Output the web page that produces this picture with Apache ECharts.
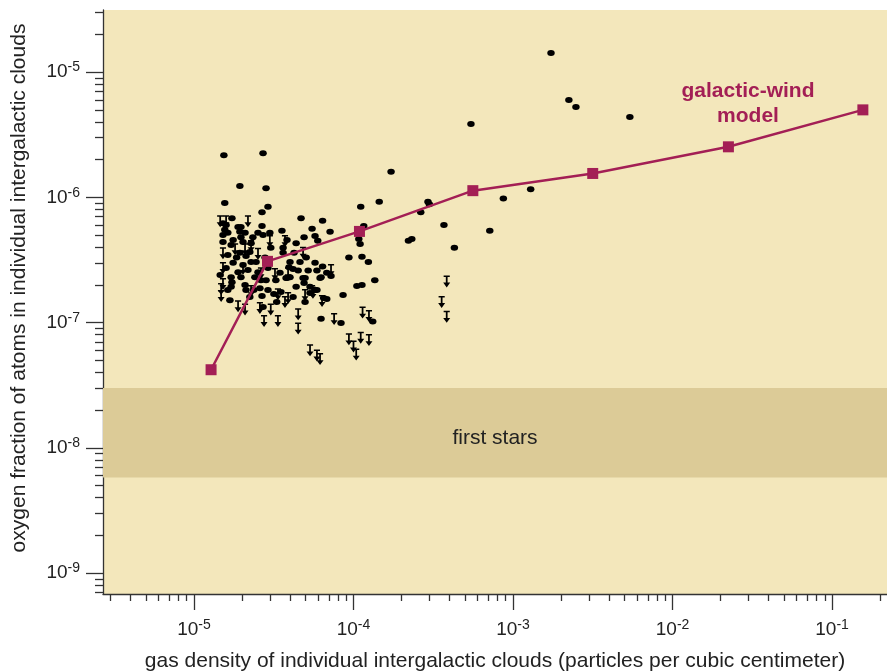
<!DOCTYPE html>
<html>
<head>
<meta charset="utf-8">
<script src="https://cdn.jsdelivr.net/npm/echarts@6/dist/echarts.min.js"></script>
<style>
    html, body { margin: 0; padding: 0; background: #fff; }
    #chart { width: 887px; height: 671px; }
</style>
</head>
<body>
<div id="chart"></div>
<script>
// measured clouds: [density, oxygen fraction]
const detections = [
    [1.54e-5, 2.17e-6], [2.71e-5, 2.25e-6], [1.94e-5, 1.23e-6], [2.83e-5, 1.18e-6], [1.56e-5, 9.0e-7],
    [2.91e-5, 8.4e-7], [2.67e-5, 7.6e-7], [1.73e-5, 6.8e-7], [4.69e-5, 6.8e-7], [2.67e-5, 5.9e-7],
    [3.56e-5, 5.4e-7], [5.5e-5, 5.6e-7], [4.9e-5, 4.8e-7], [6.4e-5, 6.5e-7], [1.11e-4, 8.4e-7],
    [1.45e-4, 9.2e-7], [7.13e-5, 5.3e-7], [5.74e-5, 4.9e-7], [5.97e-5, 4.5e-7], [1.16e-4, 5.9e-7],
    [1.08e-4, 4.65e-7], [1.1e-4, 4.24e-7], [9.36e-5, 3.3e-7], [1.13e-4, 3.35e-7], [1.24e-4, 3.05e-7],
    [4.24e-5, 3.6e-7], [5.74e-5, 3.0e-7], [1.72e-4, 1.6e-6], [5.45e-4, 3.85e-6], [1.73e-3, 1.42e-5],
    [2.24e-3, 5.97e-6], [2.48e-3, 5.26e-6], [5.4e-3, 4.37e-6], [1.29e-3, 1.16e-6], [8.7e-4, 9.8e-7],
    [7.15e-4, 5.4e-7], [2.93e-4, 9.2e-7], [2.99e-4, 8.8e-7], [2.64e-4, 7.6e-7], [3.69e-4, 6.0e-7],
    [2.21e-4, 4.5e-7], [2.32e-4, 4.65e-7], [4.29e-4, 3.95e-7],
    [1.52e-5, 6.2e-7], [1.59e-5, 6.0e-7], [1.56e-5, 5.5e-7], [1.63e-5, 5.2e-7], [1.52e-5, 5.0e-7],
    [1.89e-5, 5.8e-7], [1.97e-5, 5.8e-7], [1.94e-5, 5.3e-7], [2.09e-5, 5.2e-7], [1.97e-5, 4.8e-7],
    [2.34e-5, 4.8e-7], [2.52e-5, 5.2e-7], [2.71e-5, 5.0e-7], [2.99e-5, 5.2e-7], [1.76e-5, 4.56e-7],
    [1.52e-5, 4.4e-7], [1.71e-5, 4.16e-7], [2.03e-5, 4.4e-7], [2.28e-5, 4.3e-7], [3.03e-5, 3.95e-7],
    [4.0e-5, 3.05e-7], [1.76e-5, 3.0e-7], [2.28e-5, 3.05e-7], [3.46e-5, 2.5e-7], [1.63e-5, 3.46e-7],
    [1.94e-5, 3.6e-7], [2.79e-5, 3.3e-7], [2.24e-5, 3.65e-7], [3.62e-5, 3.6e-7], [3.62e-5, 3.95e-7],
    [6.4e-5, 2.8e-7], [5.2e-5, 2.6e-7], [5.9e-5, 2.6e-7], [6.26e-5, 2.3e-7], [6.8e-5, 2.5e-7],
    [3.94e-5, 2.77e-7], [4.18e-5, 2.68e-7], [4.5e-5, 2.6e-7], [3.83e-5, 2.27e-7], [4.83e-5, 2.27e-7],
    [4.9e-5, 2.07e-7], [5.34e-5, 1.93e-7], [5.9e-5, 1.82e-7], [1.36e-4, 2.18e-7], [1.05e-4, 1.96e-7],
    [1.13e-4, 1.99e-7], [8.6e-5, 1.66e-7], [6.8e-5, 1.54e-7], [6.5e-5, 1.57e-7], [4.18e-5, 1.6e-7],
    [3.3e-5, 1.46e-7], [6.26e-5, 1.07e-7], [8.35e-5, 9.9e-8], [1.32e-4, 1.02e-7], [1.71e-5, 1.93e-7],
    [1.63e-5, 1.82e-7], [2.09e-5, 1.99e-7], [2.12e-5, 1.82e-7], [2.59e-5, 1.88e-7], [2.91e-5, 1.82e-7],
    [3.51e-5, 1.75e-7], [2.71e-5, 1.33e-7], [1.71e-5, 2.3e-7], [1.97e-5, 2.3e-7], [2.41e-5, 2.3e-7],
    [2.63e-5, 2.18e-7], [2.83e-5, 2.18e-7], [3.26e-5, 2.18e-7], [3.78e-5, 2.27e-7], [4.0e-5, 2.3e-7],
    [4.97e-5, 2.27e-7], [6.17e-5, 2.27e-7], [7.23e-5, 2.35e-7], [5.74e-5, 1.82e-7], [5.34e-5, 1.72e-7],
    [4.97e-5, 1.46e-7], [1.46e-5, 2.4e-7], [1.73e-5, 2.1e-7], [2.03e-5, 2.88e-7], [1.85e-5, 3.3e-7],
    [2.12e-5, 3.4e-7], [2.45e-5, 3.05e-7], [1.59e-5, 2.72e-7], [1.89e-5, 2.52e-7], [2.18e-5, 2.63e-7],
    [2.52e-5, 2.52e-7], [2.91e-5, 2.72e-7], [2.37e-5, 1.82e-7], [2.67e-5, 1.63e-7], [3.17e-5, 1.69e-7],
    [4.37e-5, 1.93e-7], [4.62e-5, 3.05e-7], [5.05e-5, 3.3e-7], [3.83e-5, 4.56e-7], [4.37e-5, 4.3e-7],
    [1.68e-5, 1.51e-7], [2.24e-5, 1.6e-7]
];

// upper limits (arrows): [density, oxygen fraction]
const upperLimits = [
    [1.46e-5, 7.2e-7], [1.59e-5, 7.2e-7], [2.18e-5, 7.2e-7], [2.99e-5, 5.0e-7], [3.72e-5, 5.0e-7],
    [2.28e-5, 4.56e-7], [1.81e-5, 4.3e-7], [2.09e-5, 4.3e-7], [1.52e-5, 4.0e-7], [2.52e-5, 3.95e-7],
    [1.52e-5, 3.05e-7], [2.03e-5, 3.0e-7], [3.22e-5, 2.72e-7], [3.89e-5, 2.77e-7], [2.63e-5, 2.77e-7],
    [4.83e-5, 4.03e-7], [7.23e-5, 2.93e-7], [5.5e-5, 1.99e-7], [6.35e-5, 1.66e-7], [3.72e-5, 1.63e-7],
    [4.97e-5, 1.85e-7], [3.36e-5, 1.15e-7], [4.5e-5, 1.3e-7], [4.5e-5, 1.0e-7], [7.56e-5, 1.19e-7],
    [1.14e-4, 1.34e-7], [1.25e-4, 1.26e-7], [9.36e-5, 8.2e-8], [1.0e-4, 7.2e-8], [1.04e-4, 6.2e-8],
    [1.11e-4, 8.45e-8], [1.25e-4, 8.1e-8], [5.34e-5, 6.7e-8], [5.9e-5, 6.1e-8], [6.17e-5, 5.7e-8],
    [1.52e-5, 2.27e-7], [1.48e-5, 2.07e-7], [3.36e-5, 1.88e-7], [3.89e-5, 1.75e-7], [1.48e-5, 1.82e-7],
    [1.89e-5, 1.51e-7], [2.09e-5, 1.42e-7], [2.59e-5, 1.46e-7], [3.03e-5, 1.42e-7], [2.75e-5, 1.15e-7],
    [2.28e-5, 1.99e-7], [5.57e-5, 1.93e-7], [3.84e-4, 2.38e-7], [3.57e-4, 1.63e-7], [3.84e-4, 1.24e-7]
];

const modelDensity = [1.28e-5, 2.89e-5, 1.09e-4, 5.6e-4, 3.16e-3, 2.24e-2, 1.56e-1];
const modelOxygen = [4.2e-8, 3.08e-7, 5.34e-7, 1.13e-6, 1.55e-6, 2.53e-6, 4.99e-6];

const firstStars = [5.8e-9, 3.0e-8];
const xRange = [2.69e-6, 0.221];
const yRange = [6.8e-10, 3.13e-5];
const xDecades = [-5, -4, -3, -2, -1];
const yDecades = [-9, -8, -7, -6, -5];

const lg = Math.log10;
const wine = '#A31F55';
const ink = '#222';
const font = '"Liberation Sans", Arial, Helvetica, sans-serif';

function minorTicks(range) {
    const lo = lg(range[0]), hi = lg(range[1]);
    const out = [];
    for (let k = Math.floor(lo); k <= Math.ceil(hi); k++) {
        for (let m = 2; m <= 9; m++) {
            const v = k + lg(m);
            if (v >= lo && v <= hi) out.push(v);
        }
    }
    return out;
}

const powLabel = {
    formatter: v => '{b|10}{s|' + Math.round(v) + '}',
    rich: {
        b: {fontSize: 19, lineHeight: 23, color: ink, fontFamily: font},
        s: {fontSize: 14, lineHeight: 14, verticalAlign: 'top', color: ink, fontFamily: font}
    }
};

const arrowPath = 'path://M1.5 0H8.5V2H6V9.5H9L5 16L1 9.5H4V2H1.5Z';

const chart = echarts.init(document.getElementById('chart'));
const lineStyle = {color: '#333', width: 1.3};

chart.setOption({
    animation: false,
    textStyle: {fontFamily: font},
    grid: {
        left: 103, right: 0, top: 10, bottom: 77,
        show: true, backgroundColor: '#F3E7BB', borderWidth: 0,
        containLabel: false, outerBoundsMode: 'none'
    },
    xAxis: [{
        type: 'value', position: 'bottom',
        min: lg(xRange[0]), max: lg(xRange[1]),
        axisLine: {show: true, lineStyle: lineStyle},
        axisTick: {show: true, length: 16, lineStyle: lineStyle, customValues: xDecades},
        axisLabel: Object.assign({customValues: xDecades, margin: 24}, powLabel),
        splitLine: {show: false},
        name: 'gas density of individual intergalactic clouds (particles per cubic centimeter)',
        nameLocation: 'middle', nameGap: 57,
        nameTextStyle: {fontSize: 21, color: ink}
    }, {
        type: 'value', position: 'bottom', offset: 0,
        min: lg(xRange[0]), max: lg(xRange[1]),
        axisLine: {show: false},
        axisTick: {show: true, length: 7, lineStyle: lineStyle, customValues: minorTicks(xRange)},
        axisLabel: {show: false},
        splitLine: {show: false}
    }],
    yAxis: [{
        type: 'value', position: 'left',
        min: lg(yRange[0]), max: lg(yRange[1]),
        axisLine: {show: true, lineStyle: lineStyle},
        axisTick: {show: true, length: 17, lineStyle: lineStyle, customValues: yDecades},
        axisLabel: Object.assign({customValues: yDecades, margin: 23}, powLabel),
        splitLine: {show: false},
        name: 'oxygen fraction of atoms in individual intergalactic clouds',
        nameLocation: 'middle', nameGap: 73,
        nameTextStyle: {fontSize: 21, color: ink, padding: [0, 0, 0, 28]}
    }, {
        type: 'value', position: 'left', offset: 0,
        min: lg(yRange[0]), max: lg(yRange[1]),
        axisLine: {show: false},
        axisTick: {show: true, length: 8, lineStyle: lineStyle, customValues: minorTicks(yRange)},
        axisLabel: {show: false},
        splitLine: {show: false}
    }],
    series: [{
        name: 'clouds',
        type: 'scatter',
        silent: true,
        symbol: 'circle',
        symbolSize: [7.5, 6],
        itemStyle: {color: '#000', opacity: 1},
        data: detections.map(d => [lg(d[0]), lg(d[1])]),
        markArea: {
            silent: true,
            itemStyle: {color: '#DCCB97', opacity: 1},
            label: {
                show: true, position: 'inside', formatter: 'first stars',
                fontSize: 21, color: ink, offset: [0, 5]
            },
            data: [[{yAxis: lg(firstStars[1])}, {yAxis: lg(firstStars[0])}]]
        }
    }, {
        name: 'upper limits',
        type: 'scatter',
        silent: true,
        symbol: arrowPath,
        symbolSize: [7, 12],
        symbolOffset: [0, '50%'],
        itemStyle: {color: '#000', opacity: 1},
        data: upperLimits.map(d => [lg(d[0]), lg(d[1])])
    }, {
        name: 'galactic-wind model',
        type: 'line',
        silent: true,
        z: 5,
        symbol: 'rect',
        symbolSize: 11,
        itemStyle: {color: wine, opacity: 1},
        lineStyle: {color: wine, width: 2.5},
        data: modelDensity.map((x, i) => [lg(x), lg(modelOxygen[i])])
    }],
    graphic: [{
        type: 'text',
        x: 748, y: 79,
        style: {
            text: 'galactic-wind\nmodel',
            fill: wine,
            font: 'bold 21px ' + font,
            lineHeight: 25,
            textAlign: 'center'
        }
    }]
});
</script>
</body>
</html>
